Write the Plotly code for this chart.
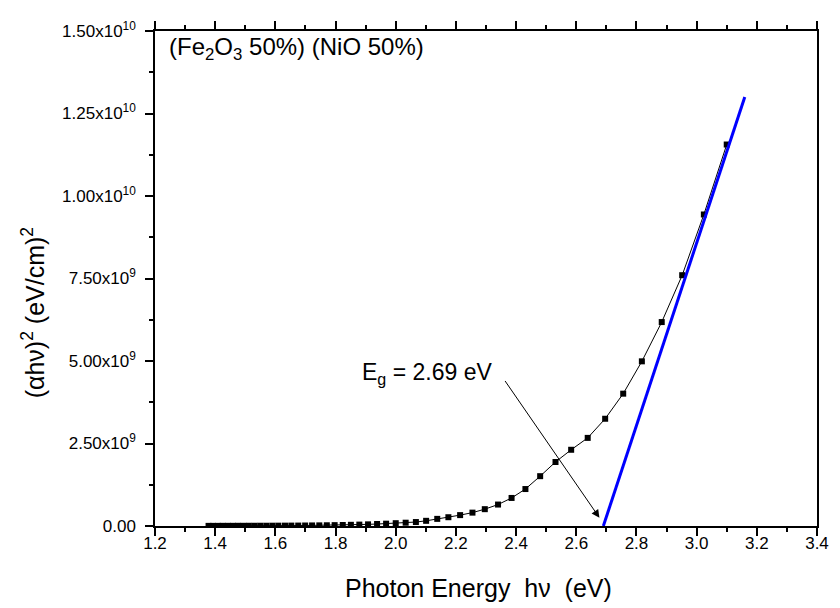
import plotly.graph_objects as go

# Photon energy (eV) and (alpha h nu)^2 values
energy = [3.100, 3.024, 2.952, 2.884, 2.818, 2.756, 2.696, 2.638, 2.583, 2.531,
          2.480, 2.431, 2.385, 2.340, 2.296, 2.255, 2.214, 2.175, 2.138, 2.101,
          2.067, 2.033, 2.000, 1.968, 1.938, 1.908, 1.879, 1.851, 1.824, 1.797,
          1.771, 1.746, 1.722, 1.699, 1.676, 1.653, 1.632, 1.610, 1.590, 1.570,
          1.550, 1.531, 1.512, 1.494, 1.476, 1.459, 1.442, 1.425, 1.409, 1.393,
          1.378]
ahv2 = [11.56e9, 9.44e9, 7.60e9, 6.18e9, 4.99e9, 4.01e9, 3.25e9, 2.67e9, 2.31e9, 1.94e9,
        1.51e9, 1.12e9, 0.85e9, 0.65e9, 0.51e9, 0.405e9, 0.33e9, 0.266e9, 0.216e9, 0.157e9,
        0.12e9, 0.10e9, 0.085e9, 0.07e9, 0.06e9, 0.05e9, 0.042e9, 0.036e9, 0.03e9, 0.026e9,
        0.022e9, 0.019e9, 0.017e9, 0.015e9, 0.013e9, 0.012e9, 0.011e9, 0.010e9, 0.009e9, 0.008e9,
        0.008e9, 0.007e9, 0.007e9, 0.006e9, 0.006e9, 0.005e9, 0.005e9, 0.005e9, 0.004e9, 0.004e9,
        0.004e9]

# Linear extrapolation (Tauc fit) line
fit_x = [2.69, 3.16]
fit_y = [0.0, 1.30e10]

# Axis ticks
x_ticks = [1.2, 1.4, 1.6, 1.8, 2.0, 2.2, 2.4, 2.6, 2.8, 3.0, 3.2, 3.4]
x_ticklabels = ["1.2", "1.4", "1.6", "1.8", "2.0", "2.2", "2.4", "2.6", "2.8", "3.0", "3.2", "3.4"]
y_ticks = [0, 2.5e9, 5.0e9, 7.5e9, 1.0e10, 1.25e10, 1.5e10]
y_ticklabels = ["0.00", "2.50x10<sup>9</sup>", "5.00x10<sup>9</sup>", "7.50x10<sup>9</sup>",
                "1.00x10<sup>10</sup>", "1.25x10<sup>10</sup>", "1.50x10<sup>10</sup>"]

FONT = "Arial, Liberation Sans, sans-serif"

fig = go.Figure()
fig.add_trace(go.Scatter(
    x=energy, y=ahv2, mode="lines+markers",
    line=dict(color="black", width=1),
    marker=dict(symbol="square", size=6, color="black"),
    showlegend=False,
))
fig.add_trace(go.Scatter(
    x=fit_x, y=fit_y, mode="lines",
    line=dict(color="#0000ff", width=3),
    showlegend=False,
))

fig.add_annotation(
    x=0.018, y=0.965, xref="paper", yref="paper", showarrow=False,
    text="(Fe<sub>2</sub>O<sub>3</sub> 50%) (NiO 50%)",
    font=dict(family=FONT, size=24, color="black"),
    xanchor="left", yanchor="middle",
)
# Arrow pointing at band gap
fig.add_annotation(
    x=2.677, y=2.5e8, ax=2.36, ay=4.44e9, xref="x", yref="y", axref="x", ayref="y",
    showarrow=True, arrowhead=2, arrowsize=1.6, arrowwidth=1, arrowcolor="black", text="",
)
fig.add_annotation(
    x=1.882, y=4.62e9, xref="x", yref="y", showarrow=False,
    text="E<sub>g</sub> = 2.69 eV",
    font=dict(family=FONT, size=23, color="black"),
    xanchor="left", yanchor="middle",
)
# Axis titles
fig.add_annotation(
    x=0.488, y=-0.126, xref="paper", yref="paper", showarrow=False,
    text="Photon Energy  hν  (eV)",
    font=dict(family=FONT, size=25, color="black"),
    xanchor="center", yanchor="middle",
)
fig.add_annotation(
    x=-0.184, y=0.43, xref="paper", yref="paper", showarrow=False, textangle=-90,
    text="(αhν)<sup>2</sup> (eV/cm)<sup>2</sup>",
    font=dict(family=FONT, size=25, color="black"),
    xanchor="center", yanchor="middle",
)

# The page body adds an 8 px offset, so the figure is sized to fit the window
fig.update_layout(
    width=832, height=600,
    margin=dict(l=147, r=17, t=11, b=82),
    paper_bgcolor="white", plot_bgcolor="white",
    font=dict(family=FONT, size=17, color="black"),
    xaxis=dict(
        range=[1.2, 3.4], tickvals=x_ticks, ticktext=x_ticklabels,
        showgrid=False, zeroline=False, showline=True, linecolor="black", linewidth=1.5,
        ticks="outside", ticklen=8, tickwidth=1.5, tickcolor="black", mirror="ticks",
        minor=dict(dtick=0.1, tick0=1.2, ticks="outside", ticklen=4, tickwidth=1.5, tickcolor="black"),
        tickfont=dict(size=17), ticklabelstandoff=-7,
    ),
    yaxis=dict(
        range=[0, 1.5e10], tickvals=y_ticks, ticktext=y_ticklabels,
        showgrid=False, zeroline=False, showline=True, linecolor="black", linewidth=1.5,
        ticks="outside", ticklen=8, tickwidth=1.5, tickcolor="black", mirror=True,
        minor=dict(dtick=1.25e9, tick0=0, ticks="outside", ticklen=4, tickwidth=1.5, tickcolor="black"),
        tickfont=dict(size=17), ticklabelstandoff=6,
    ),
)

fig.write_html("out.html")
